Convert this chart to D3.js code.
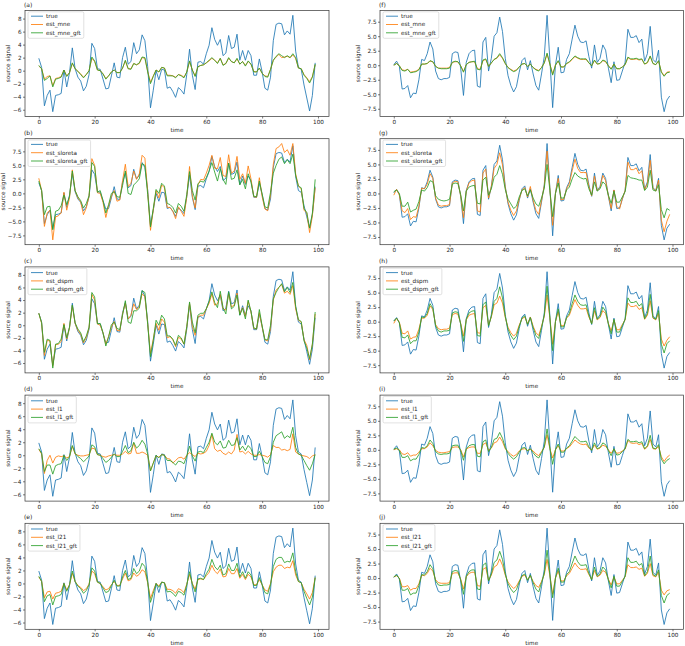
<!DOCTYPE html>
<html><head><meta charset="utf-8">
<script src="https://cdn.jsdelivr.net/npm/d3@7"></script>
<style>body{margin:0;background:#fff} svg text{font-family:"DejaVu Sans",sans-serif}</style>
</head><body><svg id="c" width="685" height="646"></svg>
<script>
const time = d3.range(100);
const xTicks = [0, 20, 40, 60, 80, 100];
const ticksStep2 = [-6, -4, -2, 0, 2, 4, 6, 8];
const ticksStep25 = [-7.5, -5, -2.5, 0, 2.5, 5, 7.5];
const panelLetters = ["(a)","(b)","(c)","(d)","(e)","(f)","(g)","(h)","(i)","(j)"];
const methods = ["mne","sloreta","dspm","l1","l21"];

const trueL = [1.9,0.5,-5.4,-3.8,-3.0,-6.3,-3.8,-3.7,-3.5,0.1,
-2.5,-0.3,3.5,0.3,-1.0,-1.6,-3.1,-2.4,-0.6,4.2,
3.4,0.3,0.2,-1.3,-2.8,-2.7,-0.8,1.2,-1.0,-1.1,
2.0,3.6,1.0,1.4,4.3,2.6,3.2,5.5,4.6,0.6,
-5.7,-3.0,0.0,-1.4,0.2,0.1,-2.7,-2.5,-3.2,-4.1,
-2.6,-3.0,-3.6,-0.6,3.3,-0.7,-2.9,1.3,1.4,1.0,
2.6,3.9,6.6,4.8,3.9,4.8,2.3,2.7,5.4,3.4,
3.6,5.6,1.6,3.1,1.6,3.1,2.3,-0.7,-0.7,1.8,
-0.2,-2.7,-3.0,-1.0,4.6,7.1,7.3,7.2,5.5,6.1,
5.6,8.5,3.0,0.5,0.2,-2.2,-4.2,-6.2,-3.8,1.2];

const mneL = [0.7,0.3,-1.3,-0.9,-0.8,-2.3,-1.2,-1.1,-0.9,0.1,
-0.8,-0.3,1.1,0.3,-0.1,-0.5,-1.0,-0.6,0.0,1.9,
1.4,0.1,0.0,-0.5,-1.2,-0.8,-0.2,0.1,-0.3,-0.3,
0.4,1.5,0.3,0.3,1.1,0.9,1.1,2.0,1.9,-0.1,
-1.8,-0.8,0.1,-0.2,0.5,0.4,-0.7,-0.7,-0.8,-1.0,
-0.6,-0.7,-1.0,-0.2,1.4,0.1,-0.8,0.6,0.8,0.9,
1.2,1.5,1.9,1.6,1.2,1.9,0.9,1.1,1.9,1.4,
1.2,1.8,1.0,1.4,0.8,1.4,1.0,-0.1,-0.2,0.4,
-0.4,-0.8,-0.9,0.2,1.6,2.1,2.5,2.0,2.1,2.2,
2.0,2.4,1.9,0.4,0.3,-0.6,-1.1,-1.7,-0.9,0.9];

const mneGftL = [0.8,0.3,-1.5,-1.2,-0.8,-2.5,-1.3,-1.2,-1.0,0.1,
-0.9,-0.3,1.2,0.3,-0.1,-0.6,-1.1,-0.6,0.0,2.1,
1.5,0.1,0.0,-0.5,-1.3,-0.8,-0.2,0.1,-0.3,-0.3,
0.4,1.6,0.3,0.2,1.1,0.9,1.2,2.1,2.0,-0.2,
-2.0,-0.9,0.1,-0.2,0.5,0.4,-0.8,-0.8,-0.8,-1.1,
-0.6,-0.8,-1.1,-0.2,1.5,0.1,-0.9,0.6,0.8,0.9,
1.2,1.6,2.0,1.6,1.1,1.9,0.8,1.1,2.0,1.4,
1.2,1.9,1.0,1.4,0.7,1.5,1.0,-0.2,-0.2,0.4,
-0.4,-0.9,-1.0,0.2,1.6,2.2,2.6,2.3,2.0,2.3,
2.0,2.6,2.0,0.4,0.3,-0.7,-1.2,-1.9,-1.0,1.0];

const sloretaL = [2.7,0.5,-5.9,-3.5,-3.0,-8.3,-4.2,-4.0,-3.5,0.2,
-3.0,-0.8,4.2,0.5,-0.8,-1.5,-3.8,-2.6,-0.5,6.2,
5.0,0.1,0.0,-1.6,-4.3,-2.2,-0.5,0.5,-1.4,-1.2,
2.3,5.2,1.2,1.8,4.0,2.5,3.5,6.8,6.3,0.3,
-6.6,-3.0,0.5,-0.8,1.5,1.0,-2.5,-2.5,-3.2,-4.5,
-2.4,-3.2,-4.1,-0.6,4.8,-0.5,-2.6,1.5,2.5,2.4,
3.6,5.0,6.8,4.5,4.4,6.4,3.2,3.0,6.9,3.6,
4.0,6.6,2.5,3.5,1.8,4.9,2.6,-0.6,-0.7,2.8,
-0.6,-2.8,-3.1,-0.3,5.2,8.0,8.3,8.9,7.3,7.8,
6.8,8.9,3.5,1.3,0.8,-3.0,-3.5,-7.0,-4.0,1.0];

const sloretaGftL = [2.2,0.5,-3.8,-2.4,-2.3,-6.5,-3.2,-3.0,-2.2,-0.3,
-2.0,-0.5,4.0,0.5,-0.6,-1.3,-2.6,-1.8,-0.4,5.5,
4.8,0.2,0.5,-1.3,-3.5,-2.0,0.0,0.3,-0.6,-0.7,
1.4,4.0,0.0,-0.2,1.5,2.0,2.6,5.3,5.0,-0.2,
-6.0,-2.7,0.7,0.0,1.8,1.3,-1.8,-2.0,-2.5,-3.5,
-1.8,-2.3,-3.2,-0.2,3.9,0.5,-1.2,1.7,2.2,2.0,
2.8,4.0,5.5,3.8,2.2,4.4,2.5,1.6,5.4,2.5,
2.7,4.2,1.5,2.5,0.8,3.5,2.0,-0.5,-0.6,2.2,
-0.1,-2.4,-2.6,0.2,3.6,5.0,6.1,6.5,5.3,6.0,
5.3,7.0,3.2,1.3,1.0,-2.7,-3.4,-6.2,-3.5,2.5];

const dspmL = [1.9,0.3,-4.8,-2.4,-2.5,-6.5,-3.1,-3.0,-2.6,0.3,
-2.2,-0.4,3.1,0.3,-0.8,-1.4,-2.8,-2.0,-0.4,4.9,
4.0,0.2,0.0,-1.2,-3.0,-1.8,-0.3,0.6,-0.8,-0.9,
1.8,3.5,1.0,1.6,3.4,2.5,3.0,5.0,4.5,0.3,
-4.5,-2.2,0.3,-0.8,1.0,0.5,-2.0,-1.8,-2.3,-3.4,
-1.9,-2.2,-3.0,-0.3,3.5,-0.2,-1.6,1.3,1.6,1.6,
2.6,3.5,5.0,3.2,3.4,4.9,2.6,2.4,5.0,2.9,
3.2,5.1,1.8,2.8,1.4,3.8,2.1,-0.5,-0.6,2.0,
-0.3,-2.3,-2.5,-0.5,4.0,5.6,6.0,6.5,5.1,5.4,
4.9,6.3,2.6,0.8,0.5,-2.3,-3.2,-5.5,-3.0,1.8];

const dspmGftL = [1.9,0.4,-4.3,-2.2,-2.4,-6.8,-3.0,-2.9,-2.2,0.1,
-2.0,-0.3,3.2,0.4,-0.6,-1.2,-2.6,-1.7,-0.3,5.2,
4.5,0.2,0.3,-1.2,-3.3,-1.8,0.1,0.5,-0.5,-0.7,
1.6,3.9,0.5,0.3,2.3,2.3,2.7,5.5,5.2,0.1,
-5.0,-2.4,0.8,0.0,1.6,1.0,-1.7,-1.7,-2.2,-3.2,
-1.6,-2.0,-3.0,-0.2,3.7,0.5,-1.2,1.6,1.9,1.9,
2.6,3.8,5.3,3.6,2.8,5.4,2.8,1.8,5.3,2.6,
3.0,4.8,1.6,2.7,1.0,4.0,2.2,-0.4,-0.6,2.5,
-0.1,-2.3,-2.3,0.0,4.2,5.2,6.0,6.6,5.3,6.0,
5.2,6.8,3.0,0.9,0.6,-2.5,-3.6,-5.3,-3.0,2.1];

const l1L = [0.9,0.2,-2.8,-0.8,0.0,-1.2,-0.3,-0.1,-0.2,-0.1,
-0.4,-0.2,1.4,0.2,0.0,-0.1,-0.1,0.0,0.1,1.1,
1.0,0.1,0.0,-0.2,-0.3,-0.1,0.0,0.1,0.0,0.0,
0.2,0.6,0.2,0.3,1.9,0.3,0.3,0.5,0.3,0.0,
-2.4,-1.2,-0.1,-0.3,0.1,0.0,-0.5,-0.6,-1.2,-0.8,
-0.4,-0.3,-0.6,0.0,0.4,0.1,-0.2,0.3,0.2,0.3,
0.6,1.5,3.2,1.0,0.6,0.8,0.3,0.1,0.5,0.2,
0.8,3.2,0.5,0.6,0.2,0.6,0.2,0.0,0.0,0.1,
0.0,-0.1,-0.3,0.1,1.5,1.2,1.2,0.8,0.9,0.7,
0.9,3.3,0.5,0.2,0.0,-0.1,-0.2,-0.5,-0.1,0.1];

const l1GftL = [1.0,0.3,-2.5,-1.5,-1.5,-2.9,-1.6,-1.4,-1.3,0.0,
-0.8,-0.2,1.5,0.3,-0.2,-0.5,-1.0,-0.6,-0.1,1.6,
1.3,0.1,0.0,-0.5,-1.1,-0.8,-0.3,0.2,-0.2,-0.2,
0.6,1.5,0.4,0.7,2.0,1.1,1.5,2.3,1.7,0.2,
-2.4,-1.2,0.0,-0.4,0.1,0.0,-0.8,-0.8,-1.1,-1.5,
-0.9,-1.0,-1.3,-0.1,1.4,-0.1,-0.9,0.5,0.6,0.4,
1.2,2.0,3.4,2.0,1.6,2.2,1.1,1.2,2.3,1.5,
1.6,2.7,0.8,1.4,0.7,1.5,1.0,-0.2,-0.2,0.6,
-0.2,-1.1,-1.3,-0.2,2.0,3.0,3.3,3.6,2.6,3.0,
2.7,4.3,1.2,0.2,0.0,-0.8,-1.6,-2.3,-1.3,0.1];

const l21L = [1.0,0.3,-2.2,-1.3,-1.2,-2.4,-1.5,-1.4,-1.2,0.0,
-1.0,-0.2,1.6,0.3,-0.3,-0.6,-1.1,-0.8,-0.1,1.9,
1.5,0.2,0.0,-0.5,-1.0,-0.8,-0.2,0.3,-0.3,-0.3,
0.7,1.6,0.4,0.6,1.6,1.1,1.4,2.1,1.8,0.1,
-2.3,-1.1,0.0,-0.4,0.2,0.1,-0.9,-0.9,-1.1,-1.5,
-0.8,-1.0,-1.4,-0.1,1.4,0.0,-0.9,0.6,0.7,0.6,
1.2,1.7,2.8,1.9,1.5,2.2,1.0,1.1,2.3,1.5,
1.5,2.3,0.8,1.4,0.6,1.4,1.0,-0.2,-0.2,0.6,
-0.2,-1.0,-1.2,0.0,1.8,2.5,2.8,2.8,2.3,2.5,
2.4,3.5,1.3,0.3,0.1,-0.9,-1.6,-2.4,-1.4,0.9];

const l21GftL = [1.1,0.3,-2.8,-1.9,-1.7,-3.3,-2.0,-1.9,-1.7,0.0,
-1.2,-0.2,1.9,0.3,-0.4,-0.8,-1.5,-1.1,-0.2,2.4,
1.9,0.2,0.0,-0.7,-1.4,-1.2,-0.3,0.5,-0.4,-0.4,
1.0,2.0,0.6,0.8,2.3,1.5,1.9,3.1,2.6,0.2,
-2.9,-1.5,0.0,-0.6,0.2,0.1,-1.3,-1.2,-1.5,-2.0,
-1.2,-1.4,-1.8,-0.2,1.8,-0.1,-1.3,0.7,0.8,0.6,
1.5,2.2,3.7,2.6,2.1,2.8,1.3,1.5,3.0,2.0,
2.0,3.1,1.0,1.8,0.8,1.8,1.3,-0.3,-0.3,0.9,
-0.2,-1.4,-1.6,-0.2,2.6,3.7,4.0,4.0,3.2,3.4,
3.3,4.7,1.8,0.3,0.1,-1.2,-2.3,-3.3,-2.1,0.9];

const trueR = [0.1,0.7,-0.2,-4.1,-4.0,-3.5,-5.6,-4.8,-4.9,-2.5,
1.0,0.8,2.0,4.0,2.8,-1.0,-2.3,-2.5,-2.3,-2.3,
-2.1,2.0,2.3,2.2,-0.5,-5.2,0.5,2.0,2.5,2.6,
-3.6,-3.8,4.0,4.8,-1.0,1.2,5.0,5.6,8.3,5.8,
1.2,-1.8,-3.5,-4.6,-3.7,-1.2,0.8,1.3,-0.8,0.8,
-1.5,-3.5,-4.3,-1.5,1.5,8.6,1.0,-7.3,0.0,3.1,
-1.3,-1.2,1.0,2.0,4.5,6.9,5.0,4.0,3.9,4.2,
1.5,-0.5,3.5,0.5,1.2,3.5,2.6,-0.5,-3.0,0.6,
-2.6,-2.5,-1.0,0.5,6.2,4.8,4.8,5.1,3.9,4.5,
0.7,2.0,6.7,1.0,0.5,2.6,-5.5,-8.0,-6.0,-5.3];

const mneR = [0.0,0.3,-0.1,-0.8,-0.9,-0.7,-1.2,-1.1,-1.0,-0.7,
0.2,0.2,0.3,0.7,0.6,-0.2,-0.5,-0.5,-0.5,-0.5,
-0.4,0.5,0.6,0.6,-0.1,-1.1,0.1,0.5,0.6,0.6,
-0.6,-0.7,0.8,1.0,-0.2,0.4,1.0,1.2,1.8,1.2,
0.3,-0.4,-0.7,-1.0,-0.8,-0.3,0.2,0.3,-0.2,0.2,
-0.4,-0.7,-0.9,-0.4,0.4,1.9,0.2,-1.5,0.0,0.7,
-0.3,-0.3,0.3,0.5,1.0,1.5,1.2,1.0,1.0,1.0,
0.4,-0.1,0.8,0.2,0.3,0.8,0.6,-0.1,-0.6,0.2,
-0.6,-0.6,-0.3,0.1,1.3,1.0,1.0,1.1,0.9,1.0,
0.2,0.4,1.5,0.3,0.1,0.7,-1.1,-1.8,-1.2,-1.1];

const mneGftR = [0.0,0.3,-0.1,-0.9,-1.0,-0.7,-1.3,-1.2,-1.1,-0.8,
0.2,0.2,0.3,0.8,0.6,-0.2,-0.5,-0.6,-0.6,-0.6,
-0.5,0.5,0.7,0.6,-0.1,-1.2,0.1,0.5,0.6,0.7,
-0.7,-0.8,0.9,1.1,-0.2,0.4,1.0,1.3,2.0,1.3,
0.3,-0.4,-0.8,-1.1,-0.9,-0.3,0.2,0.3,-0.2,0.2,
-0.4,-0.8,-1.0,-0.4,0.4,2.1,0.2,-1.7,0.0,0.8,
-0.3,-0.3,0.3,0.6,1.1,1.6,1.3,1.1,1.1,1.1,
0.4,-0.1,0.9,0.2,0.3,0.9,0.7,-0.1,-0.7,0.2,
-0.6,-0.6,-0.3,0.1,1.4,1.1,1.1,1.2,1.0,1.1,
0.2,0.5,1.6,0.3,0.1,0.8,-1.2,-1.9,-1.3,-1.2];

const sloretaR = [-0.3,0.7,-0.3,-3.0,-3.3,-2.6,-4.5,-4.0,-4.1,-2.2,
0.9,0.8,1.6,3.4,2.6,-0.8,-2.0,-2.2,-2.1,-2.1,
-1.9,1.8,2.1,2.0,-0.4,-4.2,0.4,1.8,2.2,2.3,
-3.0,-3.2,3.5,4.2,-0.8,1.2,4.3,5.0,7.0,4.9,
1.0,-1.5,-2.9,-3.8,-3.0,-1.0,0.6,1.0,-0.6,1.2,
-1.2,-2.9,-3.6,-1.2,1.3,7.3,0.8,-5.5,0.0,2.6,
-1.1,-1.0,0.8,1.7,3.9,5.9,4.3,3.6,3.6,3.6,
1.2,-0.4,3.0,0.5,1.0,3.1,2.2,-0.4,-2.6,0.6,
-2.2,-2.7,-0.9,0.5,5.4,4.1,4.1,4.4,3.4,3.9,
0.6,1.7,5.7,0.9,0.4,2.3,-4.6,-6.6,-4.8,-3.6];

const sloretaGftR = [0.3,0.6,0.0,-2.2,-2.2,-1.5,-3.2,-2.9,-2.7,-1.4,
0.6,0.4,1.0,2.2,2.0,-0.4,-1.0,-1.2,-1.3,-1.2,
-1.0,1.6,1.8,1.7,-0.2,-3.0,0.4,1.1,1.3,1.4,
-1.7,-1.8,2.3,2.8,-0.3,0.8,2.8,3.3,4.8,3.3,
0.7,-1.0,-1.8,-2.6,-2.2,-0.6,0.5,0.8,-0.4,0.6,
-0.8,-1.8,-2.2,-0.8,0.9,5.0,0.5,-4.0,0.0,1.8,
-0.8,-0.8,0.6,1.1,2.5,3.6,3.0,2.7,2.5,2.6,
0.8,-0.3,2.0,0.4,0.8,2.0,1.5,-0.3,-1.7,0.4,
-1.5,-1.5,-0.6,0.3,3.1,2.7,2.6,2.5,2.3,2.3,
0.5,1.1,4.0,0.6,0.4,1.5,-2.8,-4.2,-2.6,-2.9];

const dspmR = [-0.3,0.6,-0.1,-2.0,-2.1,-1.6,-3.0,-2.7,-2.6,-1.3,
0.6,0.6,1.1,2.7,2.1,-0.5,-1.2,-1.4,-1.3,-1.3,
-1.1,1.2,1.4,1.3,-0.3,-2.5,0.3,1.1,1.3,1.4,
-1.9,-2.0,2.4,2.8,-0.6,0.8,2.9,3.2,4.4,3.2,
0.7,-1.0,-1.9,-2.5,-2.0,-0.6,0.5,0.8,-0.4,0.8,
-0.8,-1.9,-2.4,-0.8,0.9,4.6,0.6,-3.9,0.0,1.7,
-0.7,-0.7,0.6,1.1,2.5,3.8,2.8,2.2,2.2,2.3,
0.8,-0.3,1.9,0.3,0.7,1.9,1.4,-0.3,-1.6,0.3,
-1.4,-1.4,-0.5,0.3,3.2,2.6,2.6,2.8,2.1,2.4,
0.4,1.1,3.6,0.6,0.3,1.4,-3.0,-4.2,-3.2,-2.6];

const dspmGftR = [0.1,0.6,-0.2,-2.7,-2.8,-2.3,-3.8,-3.3,-3.3,-1.8,
0.8,0.7,1.4,3.1,2.3,-0.7,-1.6,-1.8,-1.6,-1.6,
-1.5,1.5,1.7,1.6,-0.4,-3.4,0.4,1.5,1.8,1.9,
-2.4,-2.5,2.9,3.4,-0.7,0.9,3.5,4.0,6.0,4.1,
0.9,-1.3,-2.4,-3.1,-2.5,-0.8,0.6,1.0,-0.5,0.7,
-1.0,-2.4,-2.9,-1.0,1.1,6.1,0.7,-5.0,0.0,2.2,
-0.9,-0.9,0.7,1.4,3.1,4.6,3.5,2.9,2.8,2.9,
1.0,-0.4,2.4,0.4,0.9,2.5,1.8,-0.4,-2.1,0.4,
-1.8,-1.8,-0.7,0.4,4.1,3.3,3.3,3.5,2.7,3.1,
0.5,1.4,4.7,0.7,0.4,1.9,-3.9,-5.4,-3.8,-3.3];

const l1R = [0.0,0.2,0.0,-0.7,-0.8,-0.5,-1.1,-0.9,-0.9,-0.4,
0.2,0.2,0.5,1.2,0.7,-0.1,-0.4,-0.5,-0.5,-0.4,
-0.3,0.4,0.5,0.5,0.0,-1.2,0.1,0.4,0.5,0.5,
-0.6,-0.6,0.9,1.2,-0.1,0.3,1.2,1.4,2.2,1.4,
0.2,-0.3,-0.8,-1.1,-0.8,-0.2,0.1,0.2,-0.1,0.1,
-0.2,-0.7,-1.0,-0.3,0.4,2.6,0.2,-1.4,0.0,0.7,
-0.2,-0.2,0.2,0.5,1.1,1.7,1.3,1.0,0.9,1.0,
0.3,0.0,0.8,0.1,0.3,0.8,0.6,0.0,-0.6,0.1,
-0.6,-0.5,-0.2,0.1,1.6,1.2,1.1,1.2,0.9,1.1,
0.1,0.5,1.8,0.2,0.1,0.6,-1.2,-2.0,-1.3,-0.9];

const l1GftR = [0.1,0.3,-0.1,-1.3,-1.3,-1.0,-1.9,-1.6,-1.6,-0.8,
0.4,0.3,0.7,1.7,1.1,-0.3,-0.7,-0.8,-0.7,-0.7,
-0.6,0.7,0.8,0.8,-0.1,-1.8,0.2,0.7,0.9,0.9,
-1.1,-1.2,1.4,1.7,-0.3,0.4,1.8,2.0,3.0,2.0,
0.4,-0.6,-1.2,-1.6,-1.2,-0.4,0.3,0.4,-0.2,0.2,
-0.5,-1.1,-1.4,-0.5,0.5,3.6,0.3,-2.5,0.0,1.0,
-0.4,-0.4,0.3,0.7,1.5,2.3,1.8,1.4,1.4,1.5,
0.5,-0.1,1.2,0.2,0.4,1.2,0.9,-0.1,-1.0,0.2,
-0.9,-0.8,-0.3,0.2,1.8,1.4,1.4,1.5,1.2,1.4,
0.2,0.7,2.5,0.3,0.2,0.9,-1.6,-2.4,-1.8,-1.5];

const l21R = [0.2,0.4,0.0,-1.5,-1.5,-1.3,-2.1,-1.8,-1.8,-1.0,
0.5,0.4,0.8,1.7,1.2,-0.3,-0.8,-0.9,-0.9,-0.9,
-0.8,0.8,0.9,0.9,-0.2,-1.9,0.2,0.8,1.0,1.0,
-1.3,-1.4,1.5,1.8,-0.4,0.5,1.9,2.2,3.3,2.2,
0.5,-0.7,-1.3,-1.8,-1.4,-0.5,0.3,0.5,-0.3,0.4,
-0.6,-1.3,-1.6,-0.6,0.6,3.2,0.4,-2.8,0.0,1.2,
-0.5,-0.5,0.4,0.8,1.7,2.6,1.9,1.5,1.5,1.6,
0.6,-0.2,1.3,0.2,0.5,1.3,1.0,-0.2,-1.2,0.2,
-1.0,-1.0,-0.4,0.2,2.3,1.8,1.8,1.9,1.5,1.7,
0.3,0.8,2.5,0.4,0.2,1.0,-2.1,-2.9,-2.2,-2.0];

const l21GftR = [0.2,0.5,-0.1,-2.1,-2.1,-1.8,-2.9,-2.6,-2.6,-1.3,
0.6,0.5,1.1,2.3,1.6,-0.5,-1.2,-1.3,-1.2,-1.2,
-1.1,1.1,1.3,1.2,-0.3,-2.8,0.3,1.1,1.4,1.4,
-1.9,-2.0,2.2,2.6,-0.5,0.7,2.7,3.1,4.6,3.2,
0.7,-1.0,-1.9,-2.5,-2.0,-0.7,0.4,0.7,-0.4,0.5,
-0.8,-1.9,-2.4,-0.8,0.8,4.8,0.6,-3.4,0.0,1.7,
-0.7,-0.7,0.6,1.1,2.5,3.8,2.8,2.2,2.2,2.3,
0.8,-0.3,1.9,0.3,0.7,1.9,1.4,-0.3,-1.7,0.3,
-1.4,-1.4,-0.6,0.3,3.5,2.7,2.7,2.9,2.2,2.5,
0.4,1.1,3.8,0.6,0.3,1.4,-3.0,-4.3,-3.0,-2.6];

// ---- panel table built from the arrays above ----
const estL = [mneL, sloretaL, dspmL, l1L, l21L];
const gftL = [mneGftL, sloretaGftL, dspmGftL, l1GftL, l21GftL];
const estR = [mneR, sloretaR, dspmR, l1R, l21R];
const gftR = [mneGftR, sloretaGftR, dspmGftR, l1GftR, l21GftR];

const panels = [];
methods.forEach((m, i) => {
  panels.push({col: 0, row: i, letter: panelLetters[i], method: m, truth: trueL, est: estL[i], gft: gftL[i],
               yticks: m === "sloreta" ? ticksStep25 : ticksStep2});
  panels.push({col: 1, row: i, letter: panelLetters[i + 5], method: m, truth: trueR, est: estR[i], gft: gftR[i],
               yticks: ticksStep25});
});

// ---- layout / style ----
const colors = ["#1f77b4", "#ff7f0e", "#2ca02c"];
const colLeft = [25, 380], colW = [304, 303.5];
const rowTop = [10.5, 138.7, 266.9, 395.1, 523.3], H = 106;
const FS = 5.7;
const svg = d3.select("#c");

panels.forEach(p => {
  const w = colW[p.col];
  const g = svg.append("g").attr("transform", `translate(${colLeft[p.col]},${rowTop[p.row]})`);
  const x = d3.scaleLinear().domain([-4.95, 103.95]).range([0, w]);
  const all = p.truth.concat(p.est, p.gft);
  const [mn, mx] = d3.extent(all);
  const pad = (mx - mn) * 0.05;
  const y = d3.scaleLinear().domain([mn - pad, mx + pad]).range([H, 0]);

  const line = d3.line().x((d, i) => x(time[i])).y(d => y(d));
  [p.truth, p.est, p.gft].forEach((s, k) => {
    g.append("path").attr("d", line(s)).attr("fill", "none")
      .attr("stroke", colors[k]).attr("stroke-width", 0.85).attr("stroke-linejoin", "round");
  });

  const fmt = p.yticks === ticksStep25 ? d3.format(".1f") : d3.format("d");
  const xa = g.append("g").attr("transform", `translate(0,${H})`)
    .call(d3.axisBottom(x).tickValues(xTicks).tickSize(2).tickPadding(1.5).tickFormat(d3.format("d")));
  const ya = g.append("g")
    .call(d3.axisLeft(y).tickValues(p.yticks).tickSize(2).tickPadding(1.5).tickFormat(fmt));
  [xa, ya].forEach(a => {
    a.select(".domain").remove();
    a.selectAll("line").attr("stroke", "#222").attr("stroke-width", 0.6);
    a.selectAll("text").attr("font-size", FS).attr("fill", "#222").style("font-family", "DejaVu Sans");
  });

  g.append("rect").attr("width", w).attr("height", H).attr("fill", "none")
    .attr("stroke", "#333").attr("stroke-width", 0.7);

  // title
  g.append("text").attr("x", -1).attr("y", -4).attr("font-size", FS + 0.3).attr("fill", "#222").text(p.letter);
  // x label
  g.append("text").attr("x", w / 2).attr("y", H + 15.5).attr("text-anchor", "middle")
    .attr("font-size", FS).attr("fill", "#222").text("time");
  // y label
  const bb = ya.node().getBBox();
  const lx = bb.x - 5;
  g.append("text").attr("transform", `translate(${lx},${H / 2}) rotate(-90)`)
    .attr("text-anchor", "middle").attr("dominant-baseline", "central")
    .attr("font-size", FS).attr("fill", "#222").text("source signal");

  // legend
  const labels = ["true", `est_${p.method}`, `est_${p.method}_gft`];
  const lg = g.append("g").attr("transform", "translate(3,1.8)");
  const box = lg.append("rect").attr("rx", 1.5).attr("fill", "white").attr("fill-opacity", 0.8)
    .attr("stroke", "#cccccc").attr("stroke-width", 0.6);
  let maxW = 0;
  labels.forEach((t, k) => {
    const cy = 3.6 + k * 8.3 + 0.3;
    lg.append("line").attr("x1", 3).attr("x2", 15).attr("y1", cy).attr("y2", cy)
      .attr("stroke", colors[k]).attr("stroke-width", 0.85);
    const tx = lg.append("text").attr("x", 18).attr("y", cy).attr("dominant-baseline", "central")
      .attr("font-size", FS).attr("fill", "#222").text(t);
    maxW = Math.max(maxW, tx.node().getComputedTextLength());
  });
  box.attr("x", 0).attr("y", -0.5).attr("width", 18 + maxW + 3).attr("height", 26.5);
});
</script></body></html>
